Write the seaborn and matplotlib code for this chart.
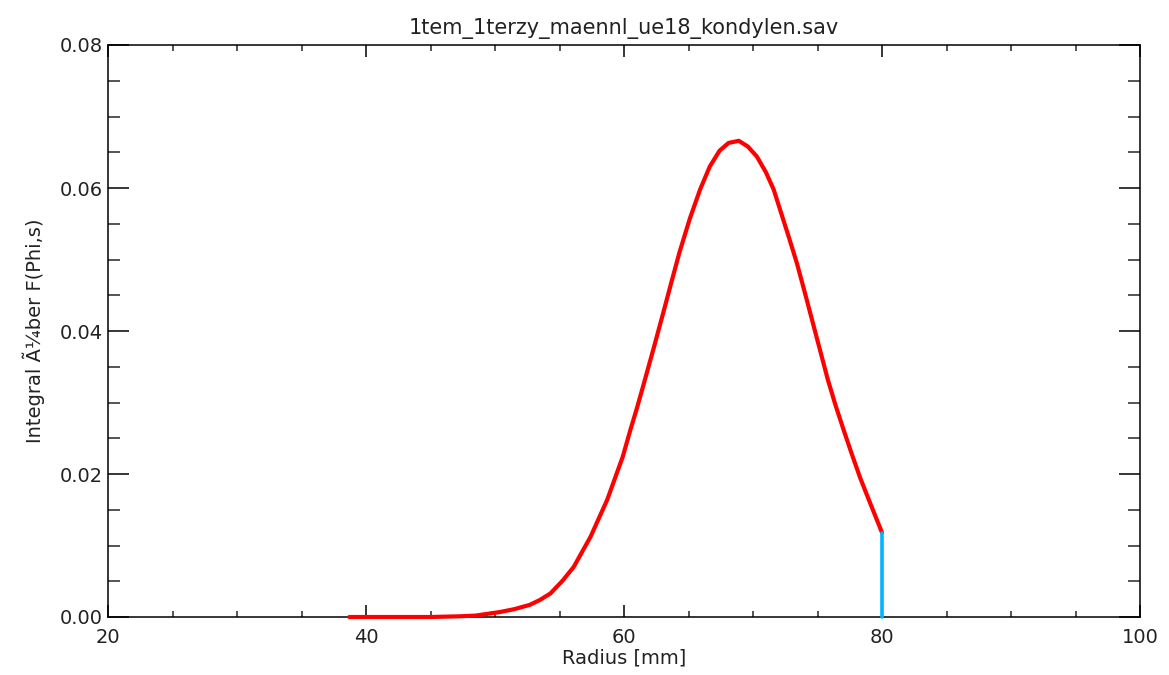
import matplotlib
matplotlib.use("Agg")
import matplotlib.pyplot as plt
import seaborn as sns
import pandas as pd
from matplotlib.ticker import MultipleLocator, FormatStrFormatter

# Data
radius = [38.7, 42.0, 45.0, 47.3, 48.5, 50.4, 51.5, 52.7, 53.5, 54.3, 55.2, 56.1,
          57.4, 58.7, 59.9, 60.5, 61.0, 61.5, 62.3, 63.05, 63.7, 64.3, 65.1,
          65.9, 66.65, 67.4, 68.1, 68.9, 69.6, 70.3, 71.0, 71.6, 72.2, 72.8,
          73.4, 74.0, 74.6, 75.2, 75.8, 76.4, 77.0, 77.6, 78.3, 79.0, 79.6, 80.0]
integral = [0.0, 0.0, 0.0, 0.0001, 0.0002, 0.0007, 0.0011, 0.0017, 0.0024, 0.0033,
            0.0050, 0.0070, 0.0112, 0.0164, 0.0224, 0.0262, 0.0292, 0.0324,
            0.0376, 0.0426, 0.0470, 0.0510, 0.0557, 0.0598, 0.0630, 0.0652,
            0.0663, 0.0666, 0.0658, 0.0644, 0.0622, 0.0598, 0.0564, 0.0530,
            0.0495, 0.0455, 0.0414, 0.0373, 0.0332, 0.0296, 0.0263, 0.0231,
            0.0195, 0.0163, 0.0136, 0.0118]
marker_x = [80.0, 80.0]
marker_y = [0.0, 0.0118]

title = "1tem_1terzy_maennl_ue18_kondylen.sav"
xlabel = "Radius [mm]"
ylabel = "Integral Ã¼ber F(Phi,s)"

sns.set_style("white")
plt.rcParams['font.family'] = ['DejaVu Sans']

fig = plt.figure(figsize=(11.69, 6.75), dpi=100)
ax = fig.add_axes([108/1169, 1 - 617/675, (1140 - 108)/1169, (617 - 45)/675])

df = pd.DataFrame({"r": radius, "v": integral})
sns.lineplot(data=df, x="r", y="v", ax=ax, color="#ff0000", linewidth=3,
             sort=False, estimator=None, solid_joinstyle="round")
dfm = pd.DataFrame({"r": marker_x, "v": marker_y})
sns.lineplot(data=dfm, x="r", y="v", ax=ax, color="#00b4ff", linewidth=2.6,
             sort=False, estimator=None)
for ln in ax.lines:
    ln.set_clip_on(False)
    ln.set_zorder(3)

ax.set_xlim(20, 100)
ax.set_ylim(0, 0.08)
ax.xaxis.set_major_locator(MultipleLocator(20))
ax.xaxis.set_minor_locator(MultipleLocator(5))
ax.yaxis.set_major_locator(MultipleLocator(0.02))
ax.yaxis.set_minor_locator(MultipleLocator(0.005))
ax.yaxis.set_major_formatter(FormatStrFormatter('%.2f'))

for s in ax.spines.values():
    s.set_color("black")
    s.set_linewidth(1.1)
    s.set_visible(True)
    s.set_zorder(2)

ax.tick_params(axis='x', which='major', direction='in', length=8.5, width=1.1,
               top=True, bottom=True, labelsize=14, pad=8, colors='black')
ax.tick_params(axis='x', which='minor', direction='in', length=4.5, width=1.1,
               top=True, bottom=True)
ax.tick_params(axis='y', which='major', direction='in', length=15, width=1.1,
               left=True, right=True, labelsize=14, pad=4, colors='black')
ax.tick_params(axis='y', which='minor', direction='in', length=8.5, width=1.1,
               left=True, right=True)
for lab in ax.get_xticklabels() + ax.get_yticklabels():
    lab.set_color("#222222")

ax.set_xlabel(xlabel, fontsize=14, color="#222222", labelpad=1)
ax.set_ylabel(ylabel, fontsize=14, color="#222222", labelpad=10)
ax.set_title(title, fontsize=15, color="#222222", pad=8)

fig.savefig("out.png", dpi=100, facecolor="white")
